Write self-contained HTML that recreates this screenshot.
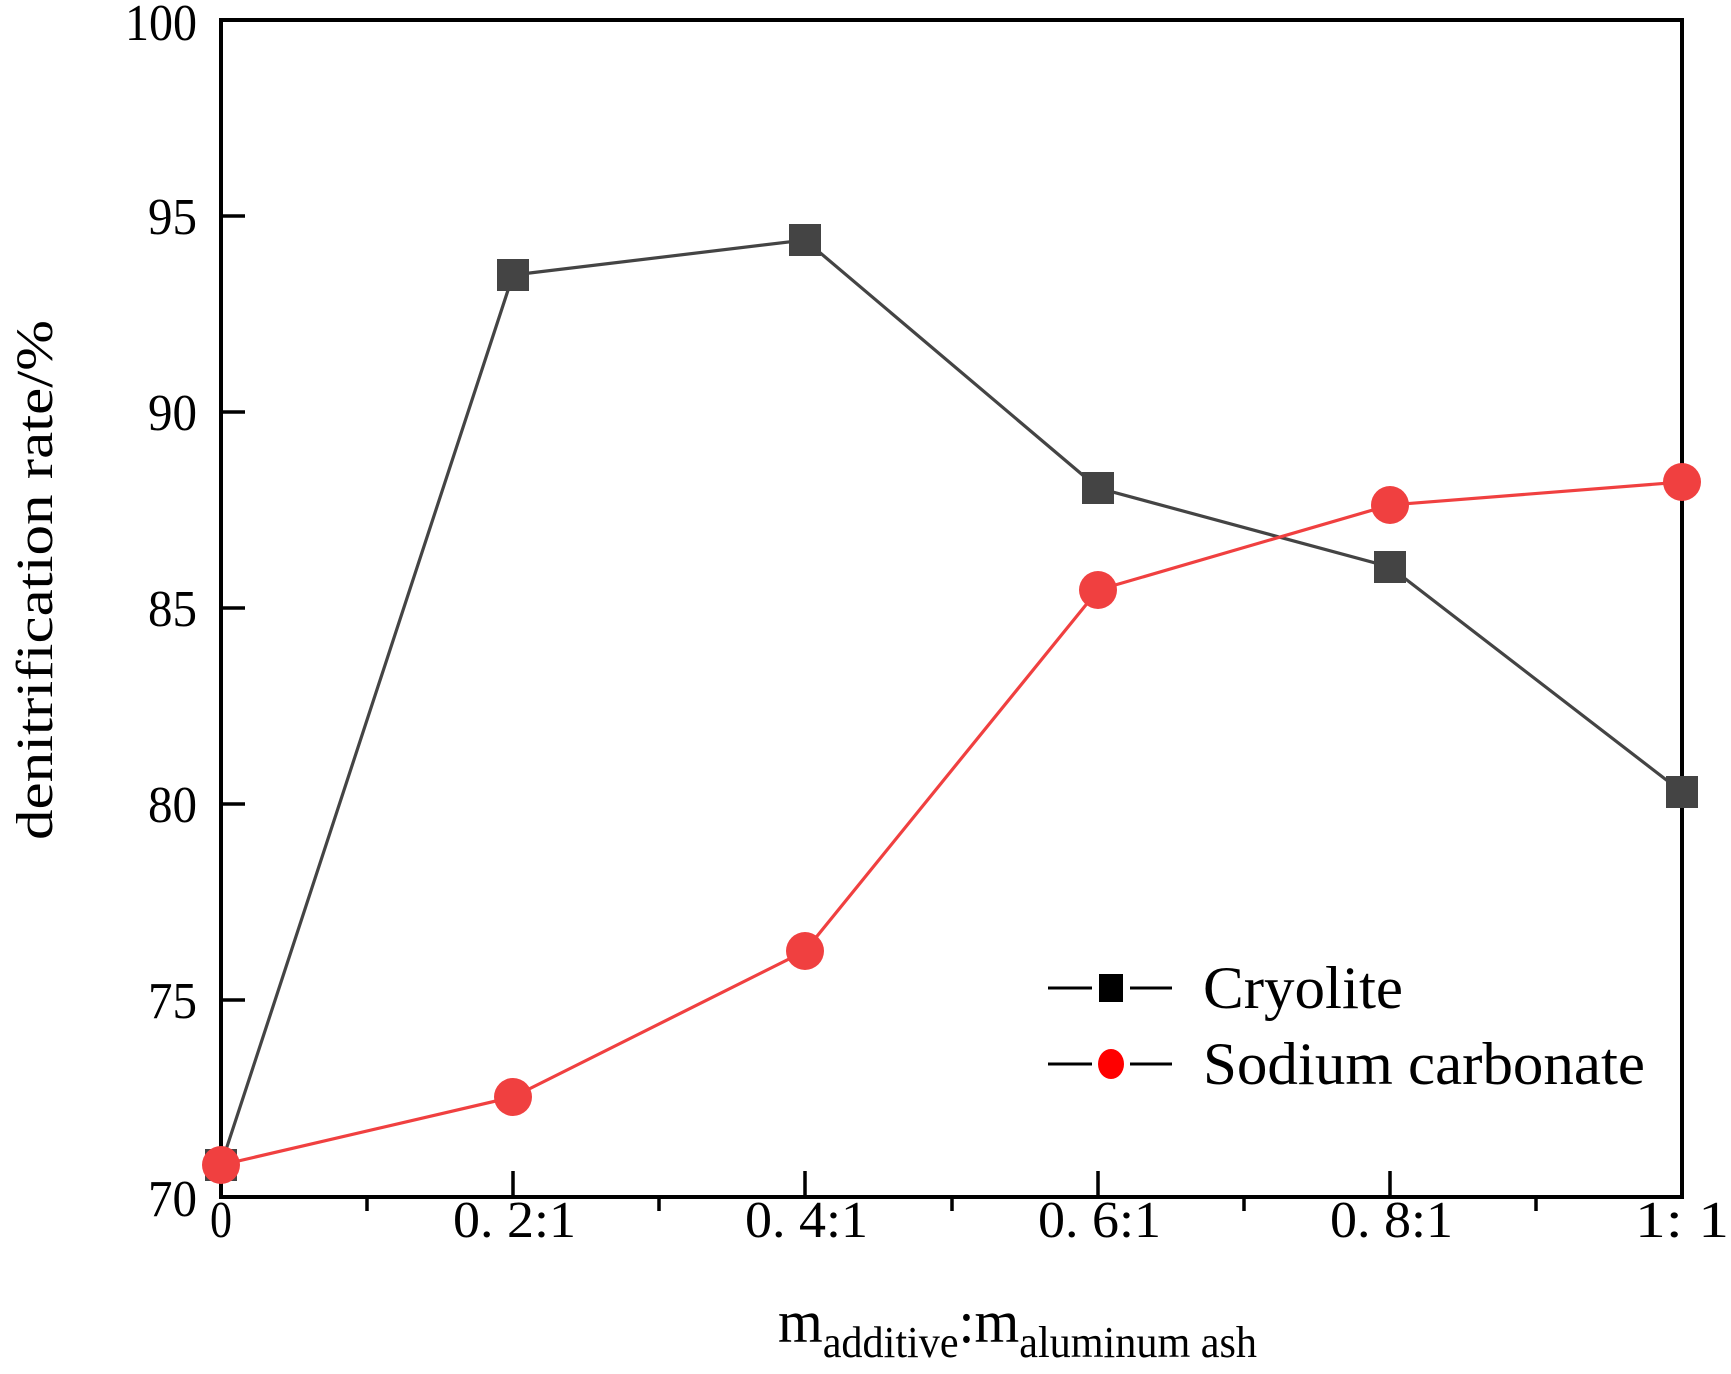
<!DOCTYPE html>
<html><head><meta charset="utf-8"><style>html,body{margin:0;padding:0;background:#fff}svg{display:block}</style></head>
<body>
<svg width="1731" height="1374" viewBox="0 0 1731 1374" xmlns="http://www.w3.org/2000/svg" font-family="Liberation Serif, serif">
<rect width="1731" height="1374" fill="#fff"/>
<g stroke="#000" stroke-width="3.5">
<line x1="513" y1="1197" x2="513" y2="1171"/>
<line x1="805" y1="1197" x2="805" y2="1171"/>
<line x1="1098" y1="1197" x2="1098" y2="1171"/>
<line x1="1390" y1="1197" x2="1390" y2="1171"/>
<line x1="367" y1="1197" x2="367" y2="1211"/>
<line x1="659" y1="1197" x2="659" y2="1211"/>
<line x1="952" y1="1197" x2="952" y2="1211"/>
<line x1="1244" y1="1197" x2="1244" y2="1211"/>
<line x1="1536" y1="1197" x2="1536" y2="1211"/>
<line x1="221" y1="216" x2="245" y2="216"/>
<line x1="221" y1="412" x2="245" y2="412"/>
<line x1="221" y1="608" x2="245" y2="608"/>
<line x1="221" y1="804" x2="245" y2="804"/>
<line x1="221" y1="1000" x2="245" y2="1000"/>
</g>
<rect x="221" y="20" width="1461" height="1177" fill="none" stroke="#000" stroke-width="4"/>
<g font-size="52" text-anchor="end">
<text x="197" y="40" textLength="72" lengthAdjust="spacingAndGlyphs">100</text>
<text x="197" y="234" textLength="49" lengthAdjust="spacingAndGlyphs">95</text>
<text x="197" y="430" textLength="49" lengthAdjust="spacingAndGlyphs">90</text>
<text x="197" y="626" textLength="49" lengthAdjust="spacingAndGlyphs">85</text>
<text x="197" y="822" textLength="49" lengthAdjust="spacingAndGlyphs">80</text>
<text x="197" y="1018" textLength="49" lengthAdjust="spacingAndGlyphs">75</text>
<text x="197" y="1216" textLength="49" lengthAdjust="spacingAndGlyphs">70</text>
</g>
<g font-size="52">
<text x="210" y="1237" textLength="22" lengthAdjust="spacingAndGlyphs">0</text>
<text x="453" y="1237" textLength="123" lengthAdjust="spacingAndGlyphs">0. 2:1</text>
<text x="745" y="1237" textLength="123" lengthAdjust="spacingAndGlyphs">0. 4:1</text>
<text x="1038" y="1237" textLength="123" lengthAdjust="spacingAndGlyphs">0. 6:1</text>
<text x="1330" y="1237" textLength="123" lengthAdjust="spacingAndGlyphs">0. 8:1</text>
<text x="1635" y="1237" textLength="94" lengthAdjust="spacingAndGlyphs">1:  1</text>
</g>
<text transform="translate(52,580) rotate(-90)" font-size="52" text-anchor="middle" textLength="520" lengthAdjust="spacingAndGlyphs">denitrification rate/%</text>
<text x="778" y="1342" font-size="60" textLength="479" lengthAdjust="spacingAndGlyphs">m<tspan font-size="44" dy="15">additive</tspan><tspan dy="-15">:m</tspan><tspan font-size="44" dy="15">aluminum ash</tspan></text>
<polyline points="221,1165 513,275 805,240 1098,488 1390,567 1682,792" fill="none" stroke="#444" stroke-width="3.2"/>
<g fill="#444">
<rect x="205" y="1149" width="32" height="32"/>
<rect x="497" y="259" width="32" height="32"/>
<rect x="789" y="224" width="32" height="32"/>
<rect x="1082" y="472" width="32" height="32"/>
<rect x="1374" y="551" width="32" height="32"/>
<rect x="1666" y="776" width="32" height="32"/>
</g>
<polyline points="221,1165 513,1097 805,951 1098,590 1390,505 1682,482" fill="none" stroke="#f04040" stroke-width="3.2"/>
<g fill="#f04040">
<circle cx="221" cy="1165" r="19"/>
<circle cx="513" cy="1097" r="19"/>
<circle cx="805" cy="951" r="19"/>
<circle cx="1098" cy="590" r="19"/>
<circle cx="1390" cy="505" r="19"/>
<circle cx="1682" cy="482" r="19"/>
</g>
<g stroke="#000" stroke-width="3">
<line x1="1048" y1="988" x2="1092" y2="988"/><line x1="1130" y1="988" x2="1172" y2="988"/>
<line x1="1048" y1="1064" x2="1092" y2="1064"/><line x1="1130" y1="1064" x2="1172" y2="1064"/>
</g>
<rect x="1099" y="974" width="24" height="28" fill="#000"/>
<ellipse cx="1111" cy="1064" rx="13" ry="15" fill="#f00"/>
<text x="1203" y="1008" font-size="60" textLength="200" lengthAdjust="spacingAndGlyphs">Cryolite</text>
<text x="1203" y="1084" font-size="60" textLength="442" lengthAdjust="spacingAndGlyphs">Sodium carbonate</text>
</svg>
</body></html>
